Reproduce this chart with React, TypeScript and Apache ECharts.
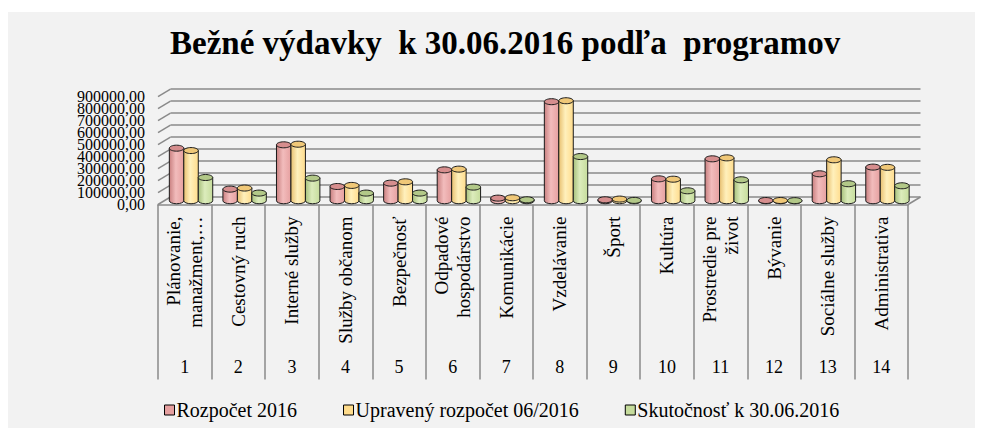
import React, { useEffect, useRef } from "react";
import * as echarts from "echarts";

const chartTitle = "Bežné výdavky  k 30.06.2016 podľa  programov";

const categories = [
  "Plánovanie,\nmanažment,…",
  "Cestovný ruch",
  "Interné služby",
  "Služby občanom",
  "Bezpečnosť",
  "Odpadové\nhospodárstvo",
  "Komunikácie",
  "Vzdelávanie",
  "Šport",
  "Kultúra",
  "Prostredie pre\nživot",
  "Bývanie",
  "Sociálne služby",
  "Administrativa",
];

const programNumbers = ["1", "2", "3", "4", "5", "6", "7", "8", "9", "10", "11", "12", "13", "14"];

const seriesNames = ["Rozpočet 2016", "Upravený rozpočet 06/2016", "Skutočnosť k 30.06.2016"];

const rozpocet2016 = [439000, 97000, 467000, 119000, 147000, 258000, 22000, 827000, 8000, 183000, 350000, 2000, 225000, 281000];
const upravenyRozpocet = [419000, 106000, 472000, 128000, 158000, 264000, 25000, 835000, 14000, 180000, 358000, 2000, 342000, 279000];
const skutocnost = [194000, 64000, 189000, 64000, 64000, 114000, 8000, 369000, 3000, 83000, 175000, 1000, 142000, 125000];

const yTicks = [0, 100000, 200000, 300000, 400000, 500000, 600000, 700000, 800000, 900000];

// styling / layout
const FONT = "'Liberation Serif', 'Times New Roman', serif";
const GRID_LINE = "#8a8a8a";
const FRONT = { left: 150, top: 84.7, width: 750, height: 107.8 };
const DX = 12.5;
const DY = -7.5;
const palette = [
  { base: "#e6a0a0", dark: "#c98080", light: "#f2bcbc", top: "#d68e8e" },
  { base: "#ffdc8c", dark: "#e8c070", light: "#fff0bc", top: "#f0c878" },
  { base: "#c6dc9c", dark: "#a8c07c", light: "#dcecbc", top: "#b2c888" },
];

const fmt = (v: number) => v.toFixed(2).replace(".", ",");
const yTickLabels = yTicks.map(fmt);

function makeBarRender(idx: number) {
  const c = palette[idx];
  return (params: any, api: any) => {
    const cat = api.value(0);
    const val = api.value(1);
    const top = api.coord([cat, val]);
    const base = api.coord([cat, 0]);
    const band = api.size([1, 0])[0];
    const bw = band * 0.27;
    const cx = top[0] + (idx - 1) * bw;
    const x0 = cx - bw / 2;
    const x1 = cx + bw / 2;
    const rx = bw / 2;
    const ry = 3;
    const yT = top[1];
    const yB = base[1];
    const grad = new echarts.graphic.LinearGradient(0, 0, 1, 0, [
      { offset: 0, color: c.dark },
      { offset: 0.45, color: c.light },
      { offset: 1, color: c.base },
    ]);
    return {
      type: "group",
      children: [
        {
          type: "path",
          shape: {
            pathData: `M${x0},${yT} L${x0},${yB} A${rx},${ry} 0 0 0 ${x1},${yB} L${x1},${yT} Z`,
          },
          style: { fill: grad, stroke: "#1a1a1a", lineWidth: 1 },
        },
        {
          type: "ellipse",
          shape: { cx, cy: yT, rx, ry },
          style: { fill: c.top, stroke: "#1a1a1a", lineWidth: 1 },
        },
      ],
    };
  };
}

export default function App() {
  const ref = useRef<HTMLDivElement>(null);

  useEffect(() => {
    if (!ref.current) return;
    const chart = echarts.init(ref.current, undefined, { renderer: "svg" });

    const back = { left: FRONT.left + DX, top: FRONT.top + DY, width: FRONT.width, height: FRONT.height };
    const mid = { left: FRONT.left + DX / 2, top: FRONT.top + DY / 2, width: FRONT.width, height: FRONT.height };

    const valueAxisBase = {
      type: "value",
      min: yTicks[0],
      max: yTicks[yTicks.length - 1],
      interval: yTicks[1] - yTicks[0],
    };

    const seriesData = [rozpocet2016, upravenyRozpocet, skutocnost];

    const option: any = {
      animation: false,
      backgroundColor: "#f2f2f2",
      title: {
        text: chartTitle,
        left: 157,
        top: 9,
        textStyle: { fontFamily: FONT, fontSize: 33, fontWeight: "bold", color: "#000" },
      },
      legend: {
        data: seriesNames,
        left: 151,
        top: 383,
        icon: "rect",
        itemWidth: 10,
        itemHeight: 10,
        itemGap: 46,
        itemStyle: { borderColor: "#000", borderWidth: 1 },
        textStyle: { fontFamily: FONT, fontSize: 20, color: "#000", padding: [0, 0, 0, -3] },
      },
      grid: [
        { ...FRONT, containLabel: false },
        { ...back, containLabel: false },
        { ...mid, containLabel: false },
      ],
      xAxis: [
        {
          type: "category",
          gridIndex: 0,
          data: categories,
          boundaryGap: true,
          axisLine: { show: true, lineStyle: { color: GRID_LINE, width: 1.5 } },
          axisTick: { show: true, interval: 0, length: 175, lineStyle: { color: GRID_LINE, width: 1.5 } },
          axisLabel: {
            interval: 0,
            rotate: 90,
            margin: 12,
            fontFamily: FONT,
            fontSize: 19,
            lineHeight: 22,
            color: "#000",
          },
        },
        {
          type: "category",
          gridIndex: 0,
          position: "bottom",
          offset: 0,
          data: programNumbers,
          axisLine: { show: false },
          axisTick: { show: false },
          axisLabel: { interval: 0, margin: 153, fontFamily: FONT, fontSize: 18, color: "#000" },
        },
        {
          type: "category",
          gridIndex: 1,
          data: categories,
          axisLine: { show: false },
          axisTick: { show: false },
          axisLabel: { show: false },
        },
        {
          type: "category",
          gridIndex: 2,
          data: categories,
          axisLine: { show: false },
          axisTick: { show: false },
          axisLabel: { show: false },
        },
      ],
      yAxis: [
        {
          type: "category",
          gridIndex: 0,
          data: yTickLabels,
          boundaryGap: false,
          axisLine: { show: false },
          axisTick: { show: false },
          splitLine: { show: false },
          axisLabel: {
            interval: 0,
            margin: 13,
            fontFamily: FONT,
            fontSize: 16,
            color: "#000",
          },
        },
        {
          ...valueAxisBase,
          gridIndex: 1,
          axisLine: { show: false },
          axisTick: { show: false },
          axisLabel: { show: false },
          splitLine: { show: true, lineStyle: { color: GRID_LINE, width: 1.5 } },
        },
        {
          ...valueAxisBase,
          gridIndex: 2,
          axisLine: { show: false },
          axisTick: { show: false },
          axisLabel: { show: false },
          splitLine: { show: false },
        },
      ],
      series: [
        {
          type: "custom",
          name: "depth",
          xAxisIndex: 0,
          yAxisIndex: 0,
          silent: true,
          z: 1,
          data: yTicks.map((_, k) => [0, k]),
          renderItem: (params: any, api: any) => {
            const k = api.value(1);
            const y = api.coord([0, k])[1];
            const cs = params.coordSys;
            const children: any[] = [
              {
                type: "line",
                shape: { x1: cs.x, y1: y, x2: cs.x + DX, y2: y + DY },
                style: { stroke: GRID_LINE, lineWidth: 1.5 },
              },
            ];
            if (k === 0) {
              children.push({
                type: "line",
                shape: { x1: cs.x + cs.width, y1: y, x2: cs.x + cs.width + DX, y2: y + DY },
                style: { stroke: GRID_LINE, lineWidth: 1.5 },
              });
            }
            return { type: "group", children };
          },
        },
        ...seriesNames.map((name, i) => ({
          type: "custom",
          name,
          xAxisIndex: 3,
          yAxisIndex: 2,
          z: 3 + i,
          itemStyle: { color: palette[i].base },
          data: seriesData[i].map((v, k) => [k, v]),
          encode: { x: 0, y: 1 },
          renderItem: makeBarRender(i),
        })),
      ],
    };

    chart.setOption(option);
    return () => chart.dispose();
  }, []);

  return (
    <div style={{ paddingTop: 4 }}>
      <div ref={ref} style={{ width: 975, height: 416 }} />
    </div>
  );
}
